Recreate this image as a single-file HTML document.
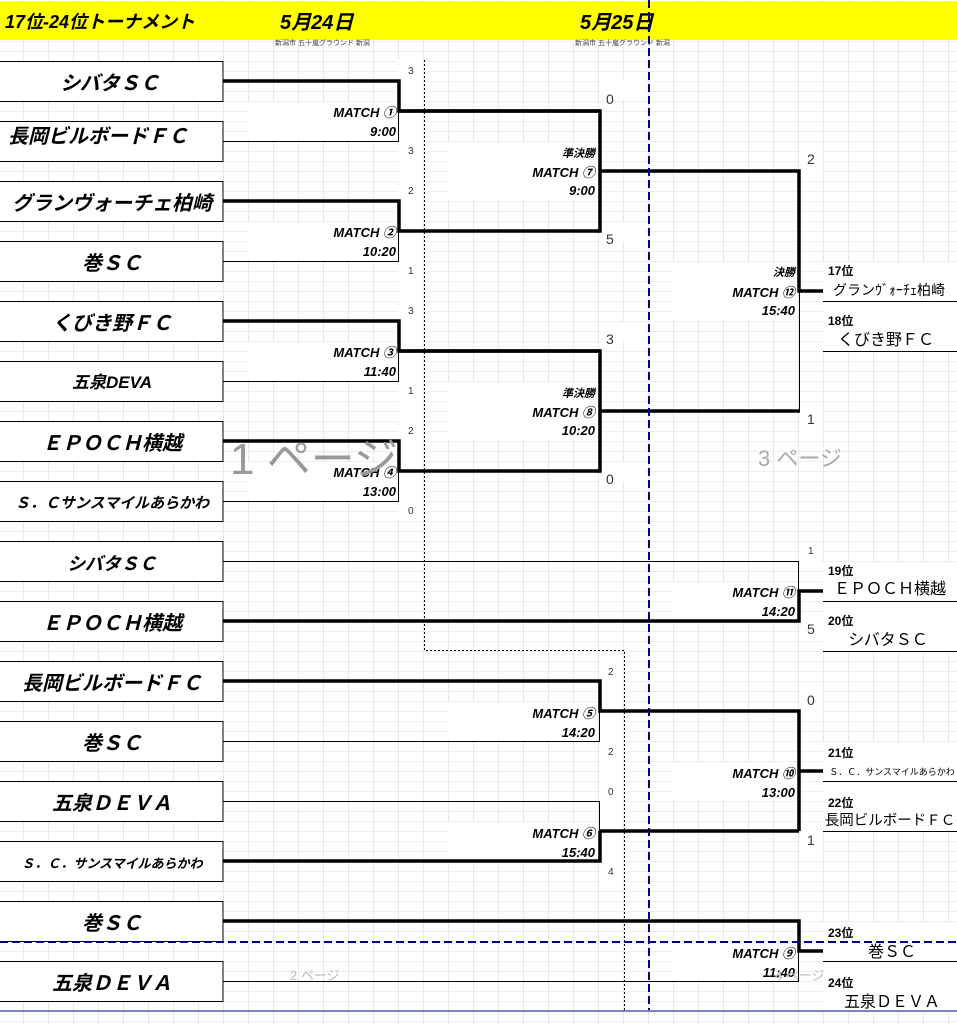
<!DOCTYPE html>
<html><head><meta charset="utf-8"><style>
html,body{margin:0;padding:0;width:957px;height:1024px;overflow:hidden;background:#fff}
svg{display:block}
text{font-family:"Liberation Sans","Noto Sans CJK JP",sans-serif}
.t{font-size:20px;font-weight:bold;font-style:italic;text-anchor:middle}
.m{font-size:13px;font-weight:bold;font-style:italic;text-anchor:end}
.s{font-size:10px;fill:#333}
.b{font-size:14px;fill:#333}
.r{font-size:12px;font-weight:bold}
.n{font-size:16px;text-anchor:middle}
</style></head><body>
<svg width="957" height="1024" viewBox="0 0 957 1024" xmlns="http://www.w3.org/2000/svg">
<defs>
<pattern id="g" x="23" y="1" width="25" height="10" patternUnits="userSpaceOnUse">
<path d="M0 0V10" stroke="#d0d0d0" stroke-width="1"/>
<path d="M0 0H25" stroke="#dcdcdc" stroke-width="1"/>
</pattern>
</defs>
<rect width="957" height="1024" fill="url(#g)"/>
<g fill="#fff">
<rect x="248" y="102" width="150" height="38"/>
<rect x="248" y="222" width="150" height="38"/>
<rect x="248" y="342" width="150" height="38"/>
<rect x="248" y="462" width="150" height="38"/>
<rect x="448" y="142" width="150" height="58"/>
<rect x="448" y="382" width="150" height="58"/>
<rect x="673" y="262" width="125" height="58"/>
<rect x="673" y="582" width="125" height="38"/>
<rect x="448" y="702" width="150" height="38"/>
<rect x="448" y="822" width="150" height="38"/>
<rect x="673" y="762" width="125" height="38"/>
<rect x="673" y="942" width="125" height="38"/>
<rect x="398" y="60" width="25" height="460"/>
<rect x="600" y="660" width="23" height="230"/>
<rect x="600" y="80" width="45" height="20"/><rect x="600" y="222" width="45" height="20"/>
<rect x="600" y="322" width="45" height="20"/><rect x="600" y="462" width="45" height="20"/>
<rect x="800" y="142" width="23" height="30"/><rect x="800" y="402" width="23" height="30"/>
<rect x="800" y="542" width="23" height="20"/><rect x="800" y="620" width="23" height="20"/>
<rect x="800" y="682" width="23" height="30"/><rect x="800" y="822" width="23" height="30"/>
<rect x="823" y="262" width="134" height="90"/>
<rect x="823" y="562" width="134" height="90"/>
<rect x="823" y="742" width="134" height="90"/>
<rect x="823" y="922" width="134" height="90"/>
</g>
<rect x="0" y="2" width="957" height="38" fill="#ffff00"/>
<text x="5" y="28" style="font-size:18px;font-weight:bold;font-style:italic">17位-24位トーナメント</text>
<text x="280" y="29" style="font-size:20px;font-weight:bold;font-style:italic">5月24日</text>
<text x="580" y="29" style="font-size:20px;font-weight:bold;font-style:italic">5月25日</text>
<text x="275" y="45" style="font-size:7px;fill:#444">新潟市 五十嵐グラウンド 新潟</text>
<text x="575" y="45" style="font-size:7px;fill:#444">新潟市 五十嵐グラウンド 新潟</text>
<g fill="#fff" stroke="#000" stroke-width="1">
<rect x="-1" y="61.5" width="224" height="40"/><rect x="-1" y="121.5" width="224" height="40"/>
<rect x="-1" y="181.5" width="224" height="40"/><rect x="-1" y="241.5" width="224" height="40"/>
<rect x="-1" y="301.5" width="224" height="40"/><rect x="-1" y="361.5" width="224" height="40"/>
<rect x="-1" y="421.5" width="224" height="40"/><rect x="-1" y="481.5" width="224" height="40"/>
<rect x="-1" y="541.5" width="224" height="40"/><rect x="-1" y="601.5" width="224" height="40"/>
<rect x="-1" y="661.5" width="224" height="40"/><rect x="-1" y="721.5" width="224" height="40"/>
<rect x="-1" y="781.5" width="224" height="40"/><rect x="-1" y="841.5" width="224" height="40"/>
<rect x="-1" y="901.5" width="224" height="40"/><rect x="-1" y="961.5" width="224" height="40"/>
</g>
<g class="t">
<text x="110" y="90">シバタＳＣ</text>
<text x="98" y="143">長岡ビルボードＦＣ</text>
<text x="112" y="210">グランヴォーチェ柏崎</text>
<text x="112" y="270">巻ＳＣ</text>
<text x="112" y="330">くびき野ＦＣ</text>
<text x="112" y="388" style="font-size:17px">五泉DEVA</text>
<text x="112" y="450">ＥＰＯＣＨ横越</text>
<text x="112" y="508" style="font-size:15px">Ｓ．Ｃサンスマイルあらかわ</text>
<text x="112" y="570" style="font-size:18px">シバタＳＣ</text>
<text x="112" y="630">ＥＰＯＣＨ横越</text>
<text x="112" y="690">長岡ビルボードＦＣ</text>
<text x="112" y="750">巻ＳＣ</text>
<text x="112" y="810">五泉ＤＥＶＡ</text>
<text x="112" y="868" style="font-size:13px">Ｓ．Ｃ．サンスマイルあらかわ</text>
<text x="112" y="930">巻ＳＣ</text>
<text x="112" y="990">五泉ＤＥＶＡ</text>
</g>
<g stroke="#000" stroke-width="1" fill="none">
<path d="M223 141.5H398.5V111"/>
<path d="M223 261.5H398.5V231"/>
<path d="M223 381.5H398.5V351"/>
<path d="M223 501.5H398.5V471"/>
<path d="M799.5 291V411"/>
<path d="M223 561.5H798.5V591"/>
<path d="M223 741.5H599.5V711"/>
<path d="M223 801.5H599.5V831"/>
<path d="M223 981.5H798.5V951"/>
</g>
<g stroke="#000" stroke-width="3.5" fill="none">
<path d="M223 81H399V111H600"/>
<path d="M223 201H399V231H600"/>
<path d="M223 321H399V351H600"/>
<path d="M223 441H399V471H600"/>
<path d="M398 111H600V231H598"/>
<path d="M600 171H799V291H823"/>
<path d="M398 351H600V471H598"/>
<path d="M600 411H800"/>
<path d="M223 621H799V591H823"/>
<path d="M223 681H600V711H799V831"/>
<path d="M600 831V861H223"/>
<path d="M600 831H799M799 771H823"/>
<path d="M223 921H799V951H823"/>
</g>
<g stroke="#000" stroke-width="1" stroke-dasharray="2,2" fill="none">
<path d="M424.5 60V650.5H624.5V1010"/>
</g>
<g stroke="#00008b" stroke-width="2" stroke-dasharray="8,4" fill="none">
<path d="M649 0V1010"/>
<path d="M0 942H957"/>
</g>
<path d="M0 1011H957" stroke="#00008b" stroke-width="1"/>
<g class="m">
<text x="396" y="117">MATCH ①</text><text x="396" y="136">9:00</text>
<text x="396" y="237">MATCH ②</text><text x="396" y="256">10:20</text>
<text x="396" y="357">MATCH ③</text><text x="396" y="376">11:40</text>
<text x="396" y="477">MATCH ④</text><text x="396" y="496">13:00</text>
<text x="595" y="157" style="font-size:11px">準決勝</text><text x="595" y="177">MATCH ⑦</text><text x="595" y="195">9:00</text>
<text x="595" y="397" style="font-size:11px">準決勝</text><text x="595" y="417">MATCH ⑧</text><text x="595" y="435">10:20</text>
<text x="795" y="276" style="font-size:11px">決勝</text><text x="795" y="297">MATCH ⑫</text><text x="795" y="315">15:40</text>
<text x="795" y="597">MATCH ⑪</text><text x="795" y="616">14:20</text>
<text x="595" y="718">MATCH ⑤</text><text x="595" y="737">14:20</text>
<text x="595" y="838">MATCH ⑥</text><text x="595" y="857">15:40</text>
<text x="795" y="778">MATCH ⑩</text><text x="795" y="797">13:00</text>
<text x="795" y="958">MATCH ⑨</text><text x="795" y="977">11:40</text>
</g>
<g class="s">
<text x="408" y="74">3</text><text x="408" y="154">3</text><text x="408" y="194">2</text><text x="408" y="274">1</text>
<text x="408" y="314">3</text><text x="408" y="394">1</text><text x="408" y="434">2</text><text x="408" y="514">0</text>
<text x="608" y="675">2</text><text x="608" y="755">2</text><text x="608" y="795">0</text><text x="608" y="875">4</text>
<text x="808" y="554">1</text>
</g>
<g class="b">
<text x="606" y="104">0</text><text x="606" y="244">5</text><text x="606" y="344">3</text><text x="606" y="484">0</text>
<text x="807" y="164">2</text><text x="807" y="424">1</text><text x="807" y="634">5</text>
<text x="807" y="705">0</text><text x="807" y="845">1</text>
</g>
<g stroke="#000" stroke-width="1">
<path d="M823 301.5H957M823 351.5H957M823 601.5H957M823 651.5H957M823 781.5H957M823 831.5H957M823 961.5H957"/>
</g>
<g class="r">
<text x="828" y="275">17位</text><text x="828" y="325">18位</text>
<text x="828" y="575">19位</text><text x="828" y="625">20位</text>
<text x="828" y="757">21位</text><text x="828" y="807">22位</text>
<text x="828" y="937">23位</text><text x="828" y="987">24位</text>
</g>
<g class="n">
<text x="889" y="295" style="font-size:14px">グランｳﾞｫｰﾁｪ柏崎</text>
<text x="886" y="345">くびき野ＦＣ</text>
<text x="890" y="594">ＥＰＯＣＨ横越</text>
<text x="888" y="645">シバタＳＣ</text>
<text x="892" y="775" style="font-size:9px">Ｓ．Ｃ．サンスマイルあらかわ</text>
<text x="890" y="825" style="font-size:14.5px">長岡ビルボードＦＣ</text>
<text x="892" y="957">巻ＳＣ</text>
<text x="892" y="1007">五泉ＤＥＶＡ</text>
</g>
<text x="230" y="474" style="font-size:44px;fill:#999">1 ページ</text>
<text x="758" y="466" style="font-size:22px;fill:#aaa">3 ページ</text>
<text x="290" y="980" style="font-size:13px;fill:#bbb">2 ページ</text>
<text x="775" y="980" style="font-size:13px;fill:#bbb">4 ページ</text>
</svg>
</body></html>
